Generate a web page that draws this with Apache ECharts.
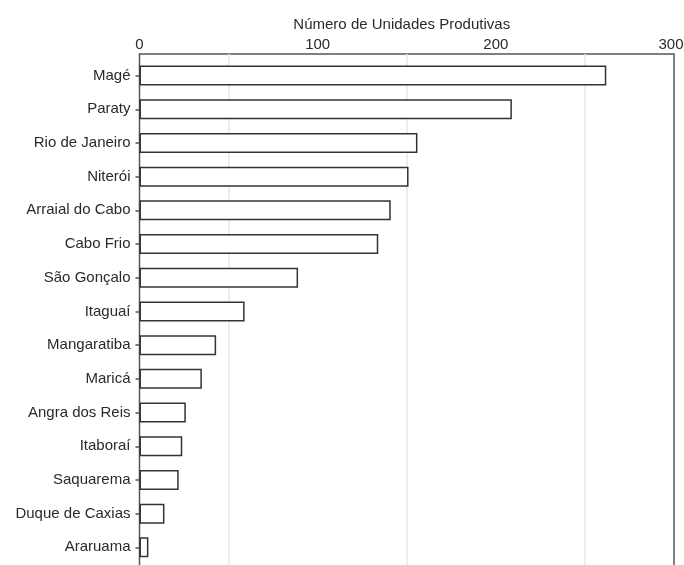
<!DOCTYPE html>
<html>
<head>
<meta charset="utf-8">
<script src="https://cdn.jsdelivr.net/npm/echarts@6/dist/echarts.min.js"></script>
<style>html,body{margin:0;padding:0;background:#fff;}#c{width:684px;height:565px;}</style>
</head>
<body>
<div id="c"></div>
<script>
var categories = ["Magé","Paraty","Rio de Janeiro","Niterói","Arraial do Cabo","Cabo Frio","São Gonçalo","Itaguaí","Mangaratiba","Maricá","Angra dos Reis","Itaboraí","Saquarema","Duque de Caxias","Araruama"];
var values = [262, 209, 156, 151, 141, 134, 89, 59, 43, 35, 26, 24, 22, 14, 5];
var axisName = "Número de Unidades Produtivas";
var xMin = 0, xMax = 300, xStep = 100;

var chart = echarts.init(document.getElementById('c'));
var font = 'Liberation Sans, Arial, sans-serif';
chart.setOption({
  animation: false,
  backgroundColor: '#fff',
  grid: [
    {left: 139.5, right: 10, top: 54, bottom: -40, show: true, borderColor: '#555', borderWidth: 1.5, backgroundColor: 'transparent', containLabel: false, outerBoundsMode: 'none'},
    {left: 139.5, right: 10, top: 58.7, bottom: 0.8, containLabel: false, outerBoundsMode: 'none'}
  ],
  xAxis: [
    {gridIndex: 0, type: 'value', position: 'top', min: xMin, max: xMax, interval: xStep,
     name: axisName, nameLocation: 'middle', nameGap: 16,
     nameTextStyle: {fontFamily: font, fontSize: 15, color: '#2a2a2a', padding: [0, 10, 0, 0]},
     axisLine: {show: true, lineStyle: {color: '#555', width: 1.5}},
     axisTick: {show: true, inside: false, length: 4, lineStyle: {color: '#555', width: 1.5}},
     axisLabel: {fontFamily: font, fontSize: 15, color: '#2a2a2a', margin: 2,
       formatter: function (v) { return v === xMax ? '{r|' + v + '}' : String(v); },
       rich: {r: {fontFamily: font, fontSize: 15, color: '#2a2a2a', padding: [0, 6, 0, 0]}}},
     splitLine: {show: false},
     minorTick: {show: false, splitNumber: 2},
     minorSplitLine: {show: true, lineStyle: {color: '#e8e8e8', width: 1.5}}
    },
    {gridIndex: 1, type: 'value', min: xMin, max: xMax, show: false, splitLine: {show: false}}
  ],
  yAxis: [
    {gridIndex: 0, type: 'value', show: false, splitLine: {show: false}},
    {gridIndex: 1, type: 'category', inverse: true, data: categories,
     axisLine: {show: false},
     axisTick: {show: true, alignWithLabel: true, length: 4, lineStyle: {color: '#555', width: 1.5}},
     axisLabel: {fontFamily: font, fontSize: 15, color: '#2a2a2a', margin: 9},
     splitLine: {show: false}
    }
  ],
  series: [{
    type: 'bar', xAxisIndex: 1, yAxisIndex: 1, data: values, barWidth: 20,
    itemStyle: {color: '#fff', borderColor: '#333', borderWidth: 1.5}
  }]
});
</script>
</body>
</html>
